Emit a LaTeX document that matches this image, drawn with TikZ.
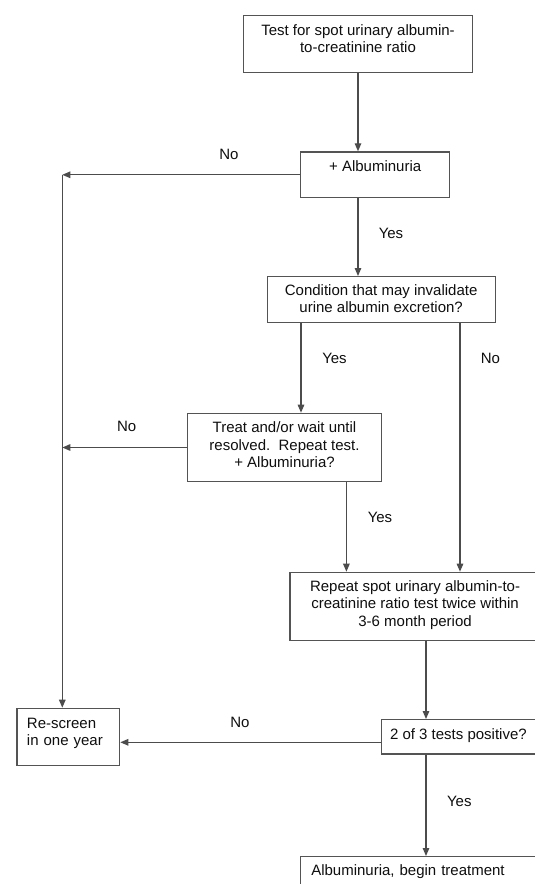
\documentclass[tikz,border=0pt]{standalone}
\usepackage{fontspec}
\setmainfont{Liberation Sans}
\usetikzlibrary{arrows.meta}
\definecolor{linecol}{gray}{0.3}
\definecolor{boxcol}{gray}{0.33}
\definecolor{txtcol}{gray}{0.06}
\tikzset{
  every node/.style={font=\fontsize{15pt}{17.3pt}\selectfont, text=txtcol},
  box/.style={draw=boxcol, line width=1.3pt, rectangle, anchor=north west,
    inner xsep=0pt, inner ysep=0pt, align=center},
  arr/.style={draw=linecol, line width=1.3pt, -{Triangle[length=8pt,width=6.5pt]}},
  lbl/.style={inner sep=0pt}
}
\begin{document}
\begin{tikzpicture}[x=1pt,y=-1pt]
\useasboundingbox (0,0) rectangle (535,884);
\clip (0,0) rectangle (535,884);
\fill[white] (0,0) rectangle (535,884);

% boxes
\node[box, minimum width=228.7pt, text height=36.7pt, text depth=20pt] (b1) at (243,15)
  {Test for spot urinary albumin-\\to-creatinine ratio};
\node[box, minimum width=149pt, text height=19.4pt, text depth=26.3pt] (b2) at (300,151.3)
  {+ Albuminuria};
\node[box, minimum width=228pt, text height=36.3pt, text depth=9.7pt] (b3) at (266.5,276)
  {Condition that may invalidate\\urine albumin excretion?};
\node[box, minimum width=194.3pt, text height=54pt, text depth=14.3pt] (b4) at (186.7,412.7)
  {Treat and/or wait until\\resolved.\ \ Repeat test.\\+ Albuminuria?};
\node[box, minimum width=250pt, text height=53.8pt, text depth=14.5pt] (b5) at (289.4,571.7)
  {Repeat spot urinary albumin-to-\\creatinine ratio test twice within\\3-6 month period};
\node[box, align=left, text width=82.8pt, inner xsep=9.9pt, text height=19.8pt, text depth=37.2pt] (r) at (16.4,707.7)
  {Re-screen\\in one year};
\node[box, minimum width=154.5pt, text height=20pt, text depth=14.3pt] (b6) at (380.5,719)
  {2 of 3 tests positive?};
\node[box, align=left, text width=229.4pt, inner xsep=10.6pt, text height=18.5pt, text depth=30pt] (b7) at (300,856)
  {Albuminuria, begin treatment};

% helper coordinates for connector x / y positions
\coordinate (lx) at (62.3,0);
\coordinate (x1) at (301,0);
\coordinate (x2) at (460,0);
\coordinate (x3) at (346.4,0);
\coordinate (x4) at (426,0);
\coordinate (y6) at (0,742.3);

% connectors
\draw[arr] (b1.south) -- (b1.south |- b2.north);
\draw[arr] (b2.west) -- (b2.west -| lx);
\draw[arr] (b2.west -| lx) -- (r.north -| lx);
\draw[arr] (b2.south -| b1.south) -- (b3.north -| b1.south);
\draw[arr] (b3.south -| x1) -- (b4.north -| x1);
\draw[arr] (b3.south -| x2) -- (b5.north -| x2);
\draw[arr] (b4.west) -- (b4.west -| lx);
\draw[arr] (b4.south -| x3) -- (b5.north -| x3);
\draw[arr] (b5.south -| x4) -- (b6.north -| x4);
\draw[arr] (b6.west |- y6) -- (r.east |- y6);
\draw[arr] (b6.south -| x4) -- (b7.north -| x4);

% labels
\node[lbl] (l1) at (229,154) {No};
\node[lbl] (l2) at (391,233.3) {Yes};
\node[lbl] (l3) at (334.5,358.3) {Yes};
\node[lbl] (l4) at (490.4,358.3) {No};
\node[lbl] (l5) at (126.6,426.7) {No};
\node[lbl] (l6) at (380,517.3) {Yes};
\node[lbl] (l7) at (240,722) {No};
\node[lbl] (l8) at (459.3,801.5) {Yes};
\end{tikzpicture}
\end{document}
